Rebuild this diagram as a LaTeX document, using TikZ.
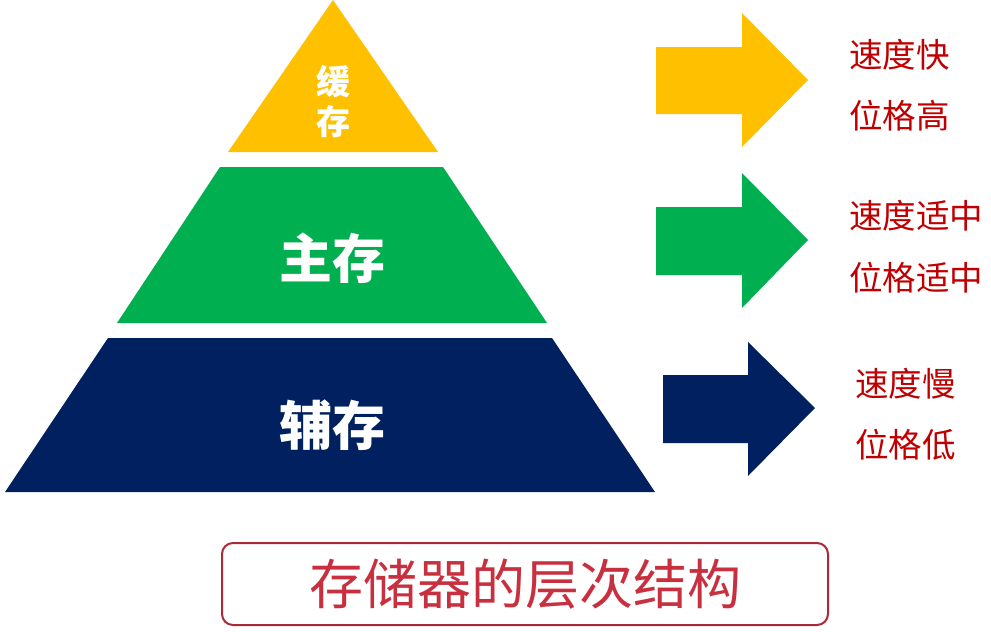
\documentclass[tikz,border=0pt]{standalone}
\usepackage{fontspec}
\newfontfamily\cjk{Noto Sans CJK SC}
\definecolor{tierY}{HTML}{FFC000}
\definecolor{tierG}{HTML}{00B050}
\definecolor{tierN}{HTML}{002060}
\definecolor{noteRed}{HTML}{C00000}
\definecolor{titleRed}{HTML}{C8303F}
\begin{document}
\begin{tikzpicture}[x=1pt,y=-1pt,
  tierlabel/.style={text=white,font=\cjk\bfseries\fontsize{53}{53}\selectfont,inner sep=0pt},
  note/.style={text=noteRed,font=\cjk\fontsize{33.5}{33.5}\selectfont,inner sep=0pt,anchor=west}]
\useasboundingbox (0,0) rectangle (991,632);
% pyramid tiers
\fill[tierY] (333,0) -- (438,152) -- (228,152) -- cycle;
\fill[tierG] (220,167) -- (443,167) -- (547,323) -- (117,323) -- cycle;
\fill[tierN] (108,338) -- (552,338) -- (655,492) -- (5,492) -- cycle;
\node[tierlabel,font=\cjk\bfseries\fontsize{34}{34}\selectfont] (cache1) at (333,82) {缓};
\node[tierlabel,font=\cjk\bfseries\fontsize{34}{34}\selectfont] (cache2) at (333,122) {存};
\node[tierlabel] (main) at (332,258) {主存};
\node[tierlabel] (aux) at (332,425) {辅存};
% arrows
\fill[tierY] (656,47) -- (742,47) -- (742,13) -- (808,80) -- (742,147) -- (742,114) -- (656,114) -- cycle;
\fill[tierG] (656,207) -- (742,207) -- (742,173) -- (808,240) -- (742,308) -- (742,275) -- (656,275) -- cycle;
\fill[tierN] (663,375) -- (748,375) -- (748,342) -- (815,408) -- (748,476) -- (748,443) -- (663,443) -- cycle;
% notes
\node[note] (n1a) at (849,55) {速度快};
\node[note] (n1b) at (849,116) {位格高};
\node[note] (n2a) at (849,216) {速度适中};
\node[note] (n2b) at (849,278) {位格适中};
\node[note] (n3a) at (855,384) {速度慢};
\node[note] (n3b) at (855,445) {位格低};
% title
\node[draw=titleRed!85!black,line width=2pt,rounded corners=11pt,minimum width=606pt,minimum height=82pt,
  text=titleRed,font=\cjk\fontsize{54}{54}\selectfont,inner sep=0pt] (title) at (525,584) {存储器的层次结构};
\end{tikzpicture}
\end{document}
